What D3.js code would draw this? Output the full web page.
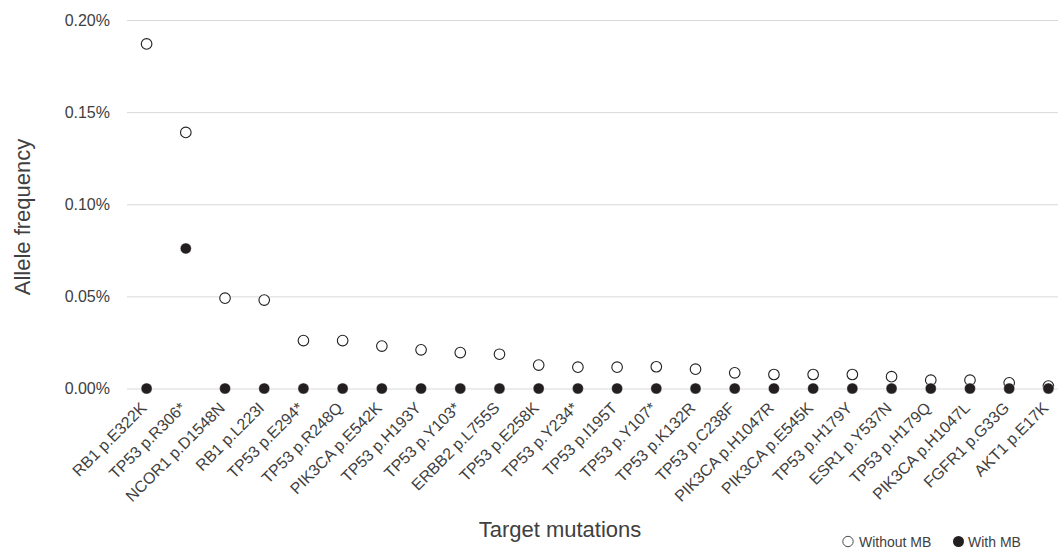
<!DOCTYPE html>
<html>
<head>
<meta charset="utf-8">
<script src="https://cdn.jsdelivr.net/npm/d3@7"></script>
<style>
  body { margin: 0; background: #fff; }
  text { font-family: "Liberation Sans", Arial, sans-serif; fill: #404040; }
</style>
</head>
<body>
<div id="chart"></div>
<script>
// Chart data
const mutations = [
    "RB1 p.E322K", "TP53 p.R306*", "NCOR1 p.D1548N", "RB1 p.L223I", "TP53 p.E294*",
    "TP53 p.R248Q", "PIK3CA p.E542K", "TP53 p.H193Y", "TP53 p.Y103*", "ERBB2 p.L755S",
    "TP53 p.E258K", "TP53 p.Y234*", "TP53 p.I195T", "TP53 p.Y107*", "TP53 p.K132R",
    "TP53 p.C238F", "PIK3CA p.H1047R", "PIK3CA p.E545K", "TP53 p.H179Y", "ESR1 p.Y537N",
    "TP53 p.H179Q", "PIK3CA p.H1047L", "FGFR1 p.G33G", "AKT1 p.E17K"
];
// allele frequency in percent
const withoutMB = [
    0.187, 0.139, 0.049, 0.048, 0.026, 0.026, 0.023, 0.021, 0.0195, 0.0186,
    0.0127, 0.0116, 0.0116, 0.0118, 0.0105, 0.0085, 0.0076, 0.0076, 0.0076, 0.0064,
    0.0045, 0.0045, 0.0031, 0.0013
];
const withMB = [
    0, 0.076, 0, 0, 0, 0, 0, 0, 0, 0,
    0, 0, 0, 0, 0, 0, 0, 0, 0, 0,
    0, 0, 0, 0
];
const yTicks = [0, 0.05, 0.10, 0.15, 0.20];

const WIDTH = 1058;
const HEIGHT = 549;
const DARK = "#231f20";

const svg = d3.select("#chart").append("svg")
    .attr("width", WIDTH).attr("height", HEIGHT);

const x = d3.scalePoint()
    .domain(mutations)
    .range([127, 1068])
    .padding(0.5);

const y = d3.scaleLinear()
    .domain([0, 0.2])
    .range([388.5, 20]);

// gridlines + y labels
const yAxis = d3.axisLeft(y)
    .tickValues(yTicks)
    .tickSize(-(1068 - 127))
    .tickPadding(17)
    .tickFormat(d => d.toFixed(2) + "%");

const gy = svg.append("g")
    .attr("transform", "translate(127,0)")
    .call(yAxis);
gy.select(".domain").remove();
gy.selectAll(".tick line").attr("stroke", "#d9d9d9").attr("stroke-width", 1);
gy.selectAll(".tick text").attr("font-size", 16).attr("fill", "#404040");

// x labels, rotated
svg.append("g").selectAll("text")
    .data(mutations)
    .join("text")
    .attr("transform", d => `translate(${x(d) + 1},${409}) rotate(-45)`)
    .attr("text-anchor", "end")
    .attr("font-size", 16)
    .text(d => d);

// without MB (open)
svg.append("g").selectAll("circle")
    .data(withoutMB)
    .join("circle")
    .attr("cx", (d, i) => x(mutations[i]))
    .attr("cy", d => y(d))
    .attr("r", 5.3)
    .attr("fill", "#fff")
    .attr("stroke", DARK)
    .attr("stroke-width", 1.1);

// with MB (filled)
svg.append("g").selectAll("circle")
    .data(withMB)
    .join("circle")
    .attr("cx", (d, i) => x(mutations[i]))
    .attr("cy", d => y(d))
    .attr("r", 5.5)
    .attr("fill", DARK)
    .attr("stroke", "#fff")
    .attr("stroke-width", 0.4);

// axis titles
svg.append("text")
    .attr("transform", "translate(30,217) rotate(-90)")
    .attr("text-anchor", "middle")
    .attr("font-size", 22)
    .text("Allele frequency");

svg.append("text")
    .attr("x", 560).attr("y", 537)
    .attr("text-anchor", "middle")
    .attr("font-size", 22)
    .text("Target mutations");

// legend
const legend = svg.append("g");
legend.append("circle")
    .attr("cx", 848).attr("cy", 541.5).attr("r", 5.2)
    .attr("fill", "#fff").attr("stroke", DARK).attr("stroke-width", 0.8);
legend.append("text")
    .attr("x", 859).attr("y", 546.5)
    .attr("font-size", 14)
    .text("Without MB");
legend.append("circle")
    .attr("cx", 958.5).attr("cy", 541.5).attr("r", 5.5)
    .attr("fill", DARK);
legend.append("text")
    .attr("x", 968).attr("y", 546.5)
    .attr("font-size", 14)
    .text("With MB");
</script>
</body>
</html>
